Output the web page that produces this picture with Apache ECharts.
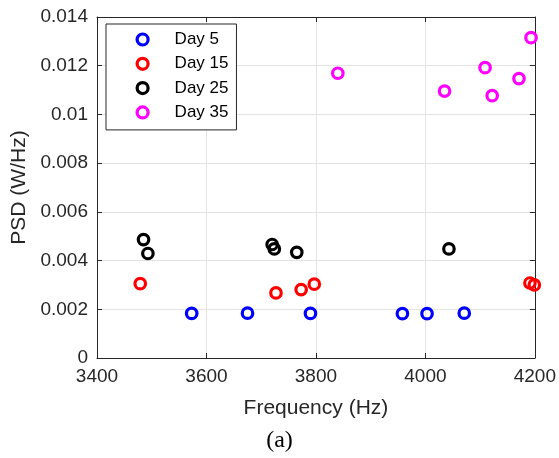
<!DOCTYPE html>
<html>
<head>
<meta charset="utf-8">
<script src="https://cdn.jsdelivr.net/npm/echarts@6/dist/echarts.min.js"></script>
<style>html,body{margin:0;padding:0;background:#fff;}#c{width:559px;height:458px;}</style>
</head>
<body>
<div id="c"></div>
<script>
var seriesNames = ['Day 5', 'Day 15', 'Day 25', 'Day 35'];
var seriesColors = ['#0000ff', '#ff0000', '#000000', '#ff00ff'];
var day5 = [[3573, 0.00183], [3675, 0.00184], [3790, 0.00183], [3958, 0.00182], [4003, 0.00182], [4071, 0.00184]];
var day15 = [[3479, 0.00305], [3727, 0.00267], [3773, 0.00281], [3797, 0.00303], [4191, 0.00308], [4199, 0.00300]];
var day25 = [[3485, 0.00486], [3493, 0.00429], [3720, 0.00466], [3724, 0.00448], [3765, 0.00434], [4043, 0.00448]];
var day35 = [[3840, 0.01169], [4035, 0.01096], [4109, 0.01192], [4122, 0.01077], [4171, 0.01147], [4193, 0.01315]];
var xTicks = [3400, 3600, 3800, 4000, 4200];
var yTicks = [0, 0.002, 0.004, 0.006, 0.008, 0.01, 0.012, 0.014];
var allData = [day5, day15, day25, day35];

var chart = echarts.init(document.getElementById('c'), null, {renderer: 'canvas'});
var font = 'Liberation Sans, Arial, Helvetica, sans-serif';
var axisCol = '#262626';
var gridCol = '#e3e3e3';

function baseX(pos, show) {
  return {
    type: 'value', position: pos, min: xTicks[0], max: xTicks[xTicks.length - 1], interval: 200,
    axisLine: {show: true, onZero: false, lineStyle: {color: axisCol, width: 1}},
    axisTick: {show: true, inside: true, length: 5, lineStyle: {color: axisCol}},
    axisLabel: {show: show, color: axisCol, fontFamily: font, fontSize: 19, margin: 9,
      formatter: function (v) { return String(v); }},
    splitLine: {show: show, lineStyle: {color: gridCol, width: 1}}
  };
}
function baseY(pos, show) {
  return {
    type: 'value', position: pos, min: yTicks[0], max: yTicks[yTicks.length - 1], interval: 0.002,
    axisLine: {show: true, onZero: false, lineStyle: {color: axisCol, width: 1}},
    axisTick: {show: true, inside: true, length: 5, lineStyle: {color: axisCol}},
    axisLabel: {show: show, color: axisCol, fontFamily: font, fontSize: 19, margin: 9,
      formatter: function (v) { return String(parseFloat(v.toFixed(3))); }},
    splitLine: {show: show, lineStyle: {color: gridCol, width: 1}}
  };
}
var xMain = baseX('bottom', true);
xMain.name = 'Frequency (Hz)';
xMain.nameLocation = 'middle';
xMain.nameGap = 40;
xMain.nameTextStyle = {color: axisCol, fontFamily: font, fontSize: 21};
var yMain = baseY('left', true);
yMain.name = 'PSD (W/Hz)';
yMain.nameLocation = 'middle';
yMain.nameGap = 63;
yMain.nameTextStyle = {color: axisCol, fontFamily: font, fontSize: 21};

var series = seriesNames.map(function (n, i) {
  return {
    name: n, type: 'scatter', xAxisIndex: 0, yAxisIndex: 0,
    data: allData[i], symbol: 'circle', symbolSize: 10.5,
    itemStyle: {color: 'rgba(0,0,0,0)', borderColor: seriesColors[i], borderWidth: 3.2, opacity: 1}
  };
});

chart.setOption({
  animation: false,
  backgroundColor: '#fff',
  title: {text: '(a)', left: 'center', top: 424,
    textStyle: {fontFamily: 'Liberation Serif, Times New Roman, serif', fontSize: 24, fontWeight: 'normal', color: '#000'}},
  grid: {left: 97, right: 24, top: 17, bottom: 100, containLabel: false},
  xAxis: [xMain, baseX('top', false)],
  yAxis: [yMain, baseY('right', false)],
  legend: {
    orient: 'vertical', left: 106, top: 24, padding: [7, 8, 9, 29.5],
    itemWidth: 11, itemHeight: 11, itemGap: 7.3,
    backgroundColor: '#fff', borderColor: axisCol, borderWidth: 1,
    itemStyle: {color: 'rgba(0,0,0,0)', borderWidth: 3.2},
    textStyle: {fontFamily: font, fontSize: 17, color: '#000', padding: [0, 0, 0, 21.5]},
    data: seriesNames
  },
  series: series
});
</script>
</body>
</html>
